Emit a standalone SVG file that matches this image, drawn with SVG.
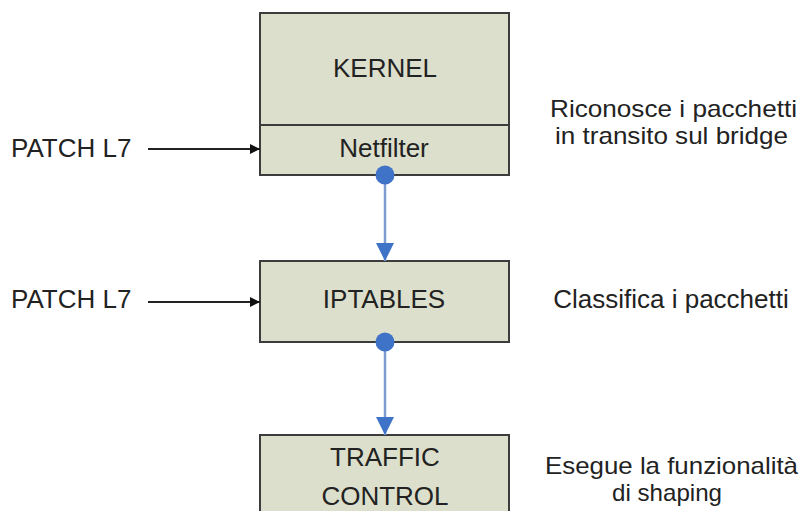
<svg xmlns="http://www.w3.org/2000/svg" width="803" height="511" viewBox="0 0 803 511">
<defs>
<style>
.box{fill:#dcdfcb;stroke:#3c3c3c;stroke-width:2}
.t{font-family:"Liberation Sans",Arial,sans-serif;font-size:26px;fill:#222;text-anchor:middle}
.tl{font-family:"Liberation Sans",Arial,sans-serif;font-size:26px;fill:#222}
.ts{font-family:"Liberation Sans",Arial,sans-serif;font-size:24px;fill:#222}
.blk{stroke:#222;stroke-width:2;fill:none}
.blu{stroke:#7f9cd0;stroke-width:2.5;fill:none}
.dot{fill:#3f73c8}
</style>
<marker id="ah" viewBox="0 0 10 10" refX="10" refY="5" markerWidth="14" markerHeight="10" markerUnits="userSpaceOnUse" orient="auto"><path d="M0,0 L10,5 L0,10 z" fill="#111"/></marker>
<marker id="bh" viewBox="0 0 10 10" refX="10" refY="5" markerWidth="20" markerHeight="18" markerUnits="userSpaceOnUse" orient="auto"><path d="M0,0 L10,5 L0,10 z" fill="#3f73c8"/></marker>
</defs>
<rect width="803" height="511" fill="#fff"/>
<g id="kernel">
<rect class="box" x="260" y="13" width="249" height="162"/>
<line x1="260" y1="125" x2="509" y2="125" stroke="#3c3c3c" stroke-width="2"/>
<text class="t" x="385" y="77">KERNEL</text>
<text class="t" x="384" y="157">Netfilter</text>
</g>
<g id="iptables">
<rect class="box" x="260" y="261" width="249" height="81"/>
<text class="t" x="384" y="308">IPTABLES</text>
</g>
<g id="tc">
<rect class="box" x="260" y="435" width="249" height="90"/>
<text class="t" x="385" y="466">TRAFFIC</text>
<text class="t" x="385" y="505">CONTROL</text>
</g>
<g id="labels">
<text class="tl" x="11" y="157">PATCH L7</text>
<text class="tl" x="11" y="308">PATCH L7</text>
<text class="ts" x="550" y="117" textLength="247" lengthAdjust="spacingAndGlyphs">Riconosce i pacchetti</text>
<text class="ts" x="555" y="144" textLength="233" lengthAdjust="spacingAndGlyphs">in transito sul bridge</text>
<text class="t" x="671" y="308">Classifica i pacchetti</text>
<text class="ts" x="545" y="474" textLength="253" lengthAdjust="spacingAndGlyphs">Esegue la funzionalità</text>
<text class="ts" x="612" y="501" textLength="110" lengthAdjust="spacingAndGlyphs">di shaping</text>
</g>
<g id="connectors">
<line class="blk" x1="148" y1="149" x2="260" y2="149" marker-end="url(#ah)"/>
<line class="blk" x1="148" y1="302" x2="260" y2="302" marker-end="url(#ah)"/>
<line class="blu" x1="385" y1="175" x2="385" y2="261" marker-end="url(#bh)"/>
<line class="blu" x1="385" y1="342" x2="385" y2="435" marker-end="url(#bh)"/>
<circle class="dot" cx="385" cy="175" r="9.5"/>
<circle class="dot" cx="385" cy="342" r="9.5"/>
</g>
</svg>
